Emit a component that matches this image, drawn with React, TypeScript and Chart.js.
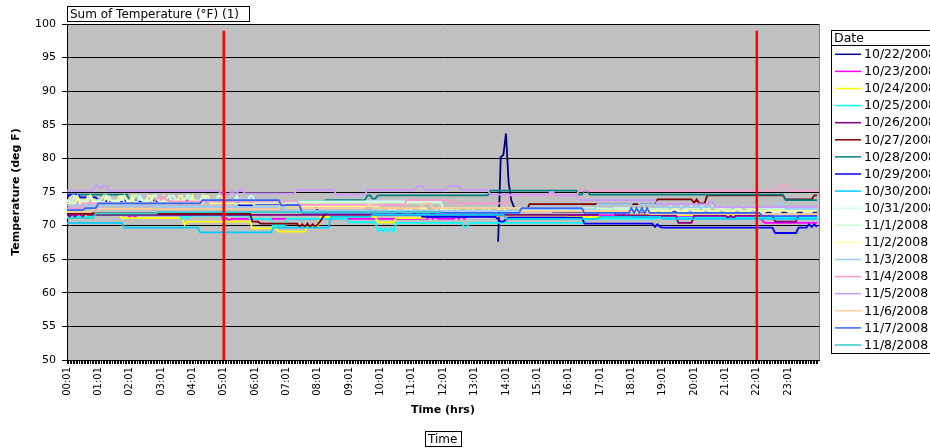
import React, { useEffect, useRef } from "react";
import { Chart, registerables } from "chart.js";

Chart.register(...registerables);

type Run = [number | null, number];

// Readings are logged every 5 minutes, starting at 00:01 (minute of day).
const readingTimes: number[] = Array.from({ length: 288 }, (_, i) => 1 + 5 * i);

// Small axis ticks every 3 minutes; hour labels land on 00:01, 01:01, ...
const axisTicks: number[] = Array.from({ length: 480 }, (_, i) => 1 + 3 * i);

// Reference markers (05:01 and 22:01) drawn from 50 to 99 deg F.
const markerTimes: number[] = [301, 1321];
const markerRange: number[] = [50, 99];

const dates: string[] = [
  "10/22/2008", "10/23/2008", "10/24/2008", "10/25/2008", "10/26/2008", "10/27/2008",
  "10/28/2008", "10/29/2008", "10/30/2008", "10/31/2008", "11/1/2008", "11/2/2008",
  "11/3/2008", "11/4/2008", "11/5/2008", "11/6/2008", "11/7/2008", "11/8/2008",
];

const colors: string[] = [
  "#000080", "#FF00FF", "#FFFF00", "#00FFFF", "#800080", "#800000",
  "#008080", "#0000FF", "#00CCFF", "#CCFFFF", "#CCFFCC", "#FFFF99",
  "#99CCFF", "#FF99CC", "#CC99FF", "#FFCC99", "#3366FF", "#33CCCC",
];

// Each day as step runs: [temperature deg F, number of 5-minute readings]
const d1022: Run[] = [[null, 165], [67.6, 1], [80.2, 1], [80.5, 1], [83.7, 1], [76.5, 1], [73.8, 1], [72.8, 1], [72.2, 14], [72.0, 50], [71.8, 30], [72.0, 22]];
const d1023: Run[] = [[71.6, 24], [71.3, 1], [71.6, 1], [71.3, 1], [71.6, 33], [70.8, 1], [71.1, 1], [70.8, 1], [71.0, 76], [71.4, 1], [71.0, 1], [71.4, 1], [71.0, 7], [71.4, 1], [71.0, 1], [71.4, 1], [71.0, 1], [71.5, 57], [71.3, 1], [71.8, 1], [71.3, 1], [71.8, 1], [71.3, 1], [71.6, 1], [71.4, 1], [71.3, 49], [70.8, 1], [70.4, 21]];
const d1024: Run[] = [[72.0, 6], [71.6, 15], [71.1, 24], [70.1, 1], [70.6, 25], [69.6, 10], [69.1, 11], [69.8, 5], [71.3, 22], [70.5, 7], [71.1, 12], [71.5, 54], [71.3, 24], [71.6, 48], [71.2, 24]];
const d1025: Run[] = [[71.3, 10], [71.6, 34], [71.0, 1], [71.5, 1], [71.0, 1], [71.5, 1], [71.5, 22], [71.0, 9], [69.8, 1], [70.3, 1], [69.8, 1], [70.3, 1], [69.8, 1], [71.0, 24], [70.5, 11], [69.1, 1], [69.6, 1], [69.1, 1], [69.6, 1], [69.1, 1], [69.6, 1], [69.1, 1], [70.4, 26], [69.8, 2], [70.4, 45], [71.0, 27], [71.2, 62]];
const d1026: Run[] = [[71.8, 1], [71.3, 1], [71.8, 1], [71.3, 1], [71.8, 2], [71.3, 1], [71.8, 1], [71.6, 196], [72.6, 6], [71.5, 24], [70.4, 6], [71.5, 13], [71.1, 1], [71.5, 1], [71.1, 1], [71.5, 15], [70.6, 9], [71.5, 8]];
const d1027: Run[] = [[71.8, 71], [70.6, 3], [70.3, 15], [69.8, 1], [70.2, 1], [69.8, 1], [70.3, 1], [69.8, 1], [70.2, 1], [69.8, 1], [70.2, 1], [70.7, 1], [71.3, 1], [71.8, 1], [72.1, 23], [72.0, 4], [71.7, 1], [72.0, 5], [71.7, 1], [72.0, 6], [71.7, 1], [72.0, 6], [72.3, 30], [73.2, 49], [73.9, 14], [73.4, 1], [73.9, 1], [73.3, 3], [74.5, 30], [73.9, 11], [74.5, 2]];
const d1028: Run[] = [[74.6, 24], [73.6, 75], [73.8, 16], [74.5, 2], [74.0, 2], [74.5, 43], [75.2, 34], [74.6, 2], [75.2, 2], [74.6, 2], [74.6, 73], [73.8, 13]];
const d1029: Run[] = [[74.2, 1], [74.6, 4], [74.2, 7], [73.7, 54], [73.0, 30], [72.2, 40], [71.3, 29], [70.9, 1], [70.6, 2], [70.9, 1], [71.2, 1], [71.2, 28], [70.3, 27], [69.8, 1], [70.2, 1], [69.8, 1], [69.7, 43], [68.9, 9], [69.7, 4], [70.2, 1], [69.8, 1], [70.2, 1], [69.8, 1]];
const d1030: Run[] = [[70.4, 22], [69.7, 29], [69.0, 28], [69.7, 22], [71.3, 16], [71.6, 51], [71.0, 36], [71.3, 24], [71.0, 60]];
const d1031: Run[] = [[73.6, 3], [74.4, 2], [73.6, 4], [74.4, 1], [73.6, 5], [74.4, 2], [73.6, 4], [74.4, 2], [73.6, 5], [74.4, 1], [73.6, 4], [74.4, 2], [73.6, 5], [74.4, 2], [73.6, 4], [74.4, 1], [73.6, 5], [74.4, 2], [73.6, 4], [74.4, 2], [73.6, 5], [74.4, 1], [73.6, 4], [74.4, 2], [73.6, 6], [73.6, 66], [72.6, 72], [72.0, 4], [72.4, 2], [72.0, 4], [72.4, 2], [72.0, 4], [72.4, 2], [72.0, 4], [72.4, 2], [72.0, 4], [72.4, 2], [72.0, 4], [72.4, 2], [72.0, 4], [72.4, 2], [72.0, 4], [72.4, 2], [72.0, 4], [72.4, 2], [72.0, 4], [72.4, 2], [72.0, 4], [72.4, 2], [72.0, 4], [72.4, 2]];
const d1101: Run[] = [[73.8, 2], [74.5, 2], [73.8, 5], [74.5, 1], [73.8, 4], [74.5, 2], [73.8, 6], [74.5, 1], [73.8, 3], [74.5, 2], [73.8, 5], [74.5, 2], [73.8, 4], [74.5, 1], [73.8, 6], [74.5, 2], [73.8, 4], [74.5, 1], [73.8, 5], [74.5, 2], [73.8, 12], [73.4, 72], [72.5, 84], [72.5, 3], [72.9, 1], [72.5, 3], [72.9, 1], [72.5, 3], [72.9, 1], [72.5, 3], [72.9, 1], [72.5, 3], [72.9, 1], [72.5, 3], [72.9, 1], [72.5, 3], [72.9, 1], [72.5, 3], [72.9, 1], [72.5, 3], [72.9, 1], [72.5, 24]];
const d1102: Run[] = [[73.3, 4], [74.4, 1], [73.3, 3], [74.4, 2], [73.3, 5], [74.4, 1], [73.3, 4], [74.4, 2], [73.3, 3], [74.4, 1], [73.3, 5], [74.4, 2], [73.3, 4], [74.4, 1], [73.3, 5], [74.4, 2], [73.3, 3], [74.4, 1], [73.3, 4], [74.4, 2], [73.3, 5], [74.4, 1], [73.3, 11], [72.9, 48], [72.2, 4], [72.6, 2], [72.2, 4], [72.6, 2], [72.2, 4], [72.6, 2], [72.2, 4], [72.6, 2], [72.2, 4], [72.6, 2], [72.2, 4], [72.6, 2], [72.2, 4], [72.6, 2], [72.2, 4], [72.6, 2], [72.2, 60], [72.2, 4], [72.6, 2], [72.2, 4], [72.6, 2], [72.2, 4], [72.6, 2], [72.2, 4], [72.6, 2], [72.2, 4], [72.6, 2], [72.2, 4], [72.6, 2], [72.2, 24]];
const d1103: Run[] = [[73.0, 36], [72.8, 48], [72.2, 90], [72.4, 29], [73.2, 14], [73.9, 2], [73.2, 7], [72.7, 46], [73.3, 3], [72.5, 13]];
const d1104: Run[] = [[72.6, 6], [73.3, 28], [73.8, 1], [74.3, 1], [73.8, 1], [74.3, 1], [73.8, 1], [73.6, 50], [73.1, 41], [73.8, 17], [73.3, 22], [74.5, 27], [75.2, 77], [75.9, 3], [75.2, 12]];
const d1105: Run[] = [[75.2, 11], [75.9, 2], [75.4, 1], [75.9, 2], [75.2, 43], [74.6, 1], [75.2, 1], [74.6, 2], [75.2, 1], [74.8, 2], [75.3, 2], [74.8, 20], [75.3, 15], [74.6, 12], [75.3, 19], [75.9, 3], [75.3, 9], [75.9, 5], [75.3, 11], [74.6, 23], [75.0, 2], [74.5, 9], [73.8, 30], [73.2, 20], [73.6, 2], [72.8, 40]];
const d1106: Run[] = [[72.0, 10], [72.5, 72], [73.3, 2], [72.6, 31], [73.1, 2], [72.6, 19], [73.3, 4], [72.6, 36], [72.1, 47], [71.7, 65]];
const d1107: Run[] = [[72.3, 7], [72.6, 5], [73.3, 40], [73.8, 30], [73.0, 8], [71.9, 84], [72.6, 24], [71.9, 18], [72.6, 1], [71.9, 1], [72.6, 1], [71.9, 1], [72.6, 1], [71.9, 1], [72.6, 1], [71.9, 1], [71.9, 42], [71.4, 22]];
const d1108: Run[] = [[71.1, 11], [71.8, 24], [72.0, 109], [null, 144]];

const dayRuns: Run[][] = [
  d1022, d1023, d1024, d1025, d1026, d1027, d1028, d1029, d1030,
  d1031, d1101, d1102, d1103, d1104, d1105, d1106, d1107, d1108,
];

const expandRuns = (runs: Run[]): (number | null)[] =>
  runs.flatMap(([v, n]) => Array(n).fill(v));

const pad2 = (n: number) => String(n).padStart(2, "0");
const clockLabel = (m: number) => `${pad2(Math.floor(m / 60))}:${pad2(m % 60)}`;

const FONT = "'DejaVu Sans', sans-serif";

const excelFrame = {
  id: "excelFrame",
  beforeDraw(chart: any) {
    const { ctx, chartArea: a, width, height } = chart;
    ctx.save();
    ctx.fillStyle = "#FFFFFF";
    ctx.fillRect(0, 0, width, height);
    ctx.fillStyle = "#C0C0C0";
    ctx.fillRect(a.left, a.top, a.right - a.left, a.bottom - a.top);
    ctx.restore();
  },
  afterDatasetsDraw(chart: any) {
    const { ctx, chartArea: a } = chart;
    const { x, y } = chart.scales;
    ctx.save();
    ctx.strokeStyle = "#FF0000";
    ctx.lineWidth = 2.5;
    for (const t of markerTimes) {
      const px = x.getPixelForValue(t);
      ctx.beginPath();
      ctx.moveTo(px, y.getPixelForValue(markerRange[0]));
      ctx.lineTo(px, y.getPixelForValue(markerRange[1]));
      ctx.stroke();
    }
    ctx.strokeStyle = "#808080";
    ctx.lineWidth = 1;
    const rx = Math.round(a.right) + 0.5;
    ctx.beginPath();
    ctx.moveTo(rx, a.top);
    ctx.lineTo(rx, a.bottom);
    ctx.stroke();
    ctx.restore();
  },
  afterDraw(chart: any) {
    const { ctx } = chart;
    ctx.save();
    ctx.lineWidth = 1;
    ctx.strokeStyle = "#000000";
    ctx.fillStyle = "#000000";
    ctx.textBaseline = "middle";
    ctx.textAlign = "left";

    // Pivot field buttons
    ctx.font = `12px ${FONT}`;
    ctx.strokeRect(67.5, 6.5, 182, 15);
    ctx.fillText("Sum of Temperature (\u00B0F) (1)", 70, 14.5);
    ctx.strokeRect(425.5, 431.5, 36, 15);
    ctx.fillText("Time", 428, 439.5);

    // Legend
    ctx.font = `12.5px ${FONT}`;
    const lx = 831.5;
    const top = 30.5;
    const rowGap = 17.1;
    const firstRow = 54.3;
    const bottom = 353.5;
    ctx.strokeRect(lx, top, 120, bottom - top);
    ctx.beginPath();
    ctx.moveTo(lx, 45.5);
    ctx.lineTo(lx + 120, 45.5);
    ctx.stroke();
    ctx.fillText("Date", 834, 38.5);
    chart.data.datasets.forEach((ds: any, i: number) => {
      const ry = firstRow + rowGap * i;
      ctx.strokeStyle = ds.borderColor;
      ctx.lineWidth = 1.5;
      ctx.beginPath();
      ctx.moveTo(835, ry);
      ctx.lineTo(861, ry);
      ctx.stroke();
      ctx.fillStyle = "#000000";
      ctx.fillText(ds.label, 864, ry + 0.5);
    });
    ctx.restore();
  },
};

export default function App() {
  const canvasRef = useRef<HTMLCanvasElement | null>(null);

  useEffect(() => {
    if (!canvasRef.current) return;
    const datasets = dayRuns.map((runs, i) => {
      const values = expandRuns(runs);
      return {
        label: dates[i],
        data: values.map((v, k) => ({ x: readingTimes[k], y: v })),
        borderColor: colors[i],
        backgroundColor: colors[i],
        borderWidth: 1.8,
        pointRadius: 0,
        tension: 0,
        spanGaps: false,
        order: dayRuns.length - 1 - i,
      };
    });

    const chart = new Chart(canvasRef.current, {
      type: "line",
      data: { datasets },
      plugins: [excelFrame],
      options: {
        responsive: false,
        animation: false,
        events: [],
        layout: { padding: { top: 24, right: 111, bottom: 28, left: 0 } },
        plugins: {
          legend: { display: false },
          tooltip: { enabled: false },
          title: { display: false },
        },
        scales: {
          x: {
            type: "linear",
            min: 1,
            max: 1440,
            afterBuildTicks: (scale: any) => {
              scale.ticks = axisTicks.map((v) => ({ value: v }));
            },
            afterFit: (scale: any) => {
              scale.height = 60;
            },
            ticks: {
              autoSkip: false,
              minRotation: 90,
              maxRotation: 90,
              padding: 3,
              color: "#000000",
              font: { family: FONT, size: 10 },
              callback: (v: any) => ((Number(v) - 1) % 60 === 0 ? clockLabel(Number(v)) : ""),
            },
            grid: {
              drawOnChartArea: false,
              drawTicks: true,
              tickLength: 4,
              color: "#000000",
              lineWidth: 1,
            },
            border: { color: "#000000", width: 1 },
            title: {
              display: true,
              text: "Time (hrs)",
              color: "#000000",
              font: { family: FONT, size: 11, weight: "bold" },
              padding: { top: 4, bottom: 3 },
            },
          },
          y: {
            min: 50,
            max: 100,
            afterFit: (scale: any) => {
              scale.width = 67;
            },
            ticks: {
              stepSize: 5,
              color: "#000000",
              font: { family: FONT, size: 11 },
              padding: 6,
            },
            grid: { color: "#000000", lineWidth: 1, tickLength: 5 },
            border: { color: "#000000", width: 1 },
            title: {
              display: true,
              text: "Temperature (deg F)",
              color: "#000000",
              font: { family: FONT, size: 11, weight: "bold" },
              padding: { top: 10, bottom: 0 },
            },
          },
        },
      } as any,
    });
    return () => chart.destroy();
  }, []);

  return (
    <div style={{ position: "fixed", left: 0, top: 0, width: 930, height: 448, background: "#FFFFFF", overflow: "hidden" }}>
      <canvas ref={canvasRef} width={930} height={448} style={{ display: "block" }} />
    </div>
  );
}
